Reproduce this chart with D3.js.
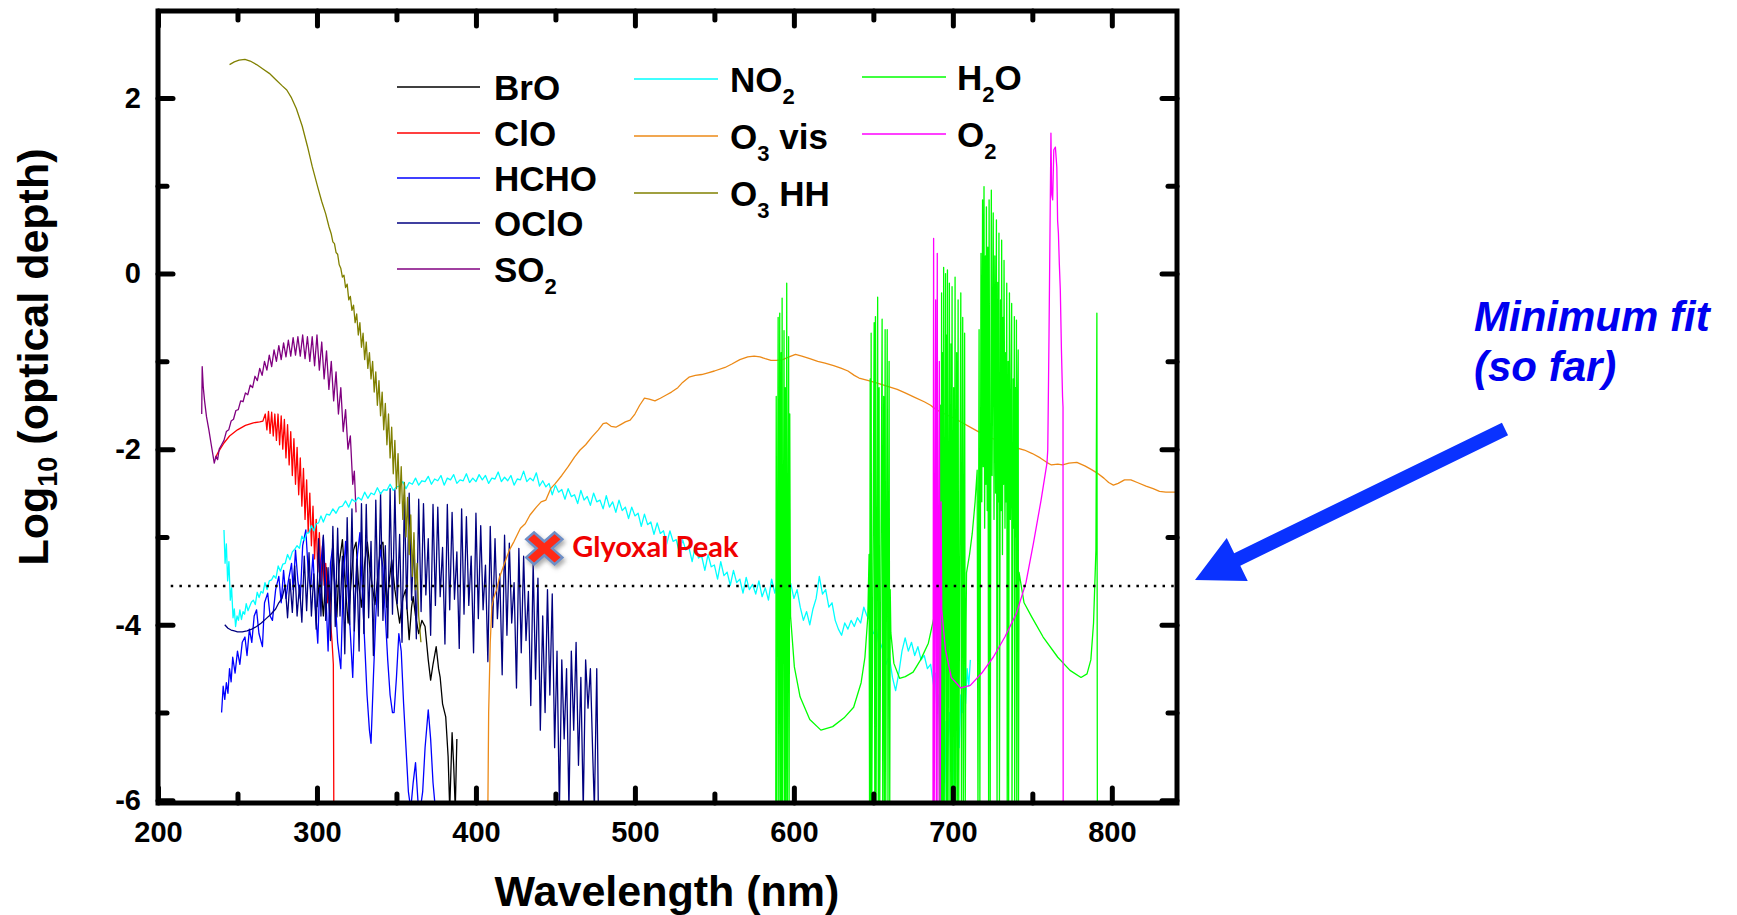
<!DOCTYPE html>
<html>
<head>
<meta charset="utf-8">
<script src="https://cdn.jsdelivr.net/npm/d3@7"></script>
<style>
  html, body { margin: 0; padding: 0; background: #fff; }
  svg { display: block; }
</style>
</head>
<body>
<div id="chart"></div>
<script>
// ---- data (wavelength nm, log10 optical depth) ----
const broData = [[300,-3.8],[302,-3.4],[304,-3.9],[306,-3.35],[308,-3.85],[310,-3.2],[312.5,-3.91],[314,-3.3],[316,-3.03],[318,-3.6],[319.6,-3.98],[321.5,-3.5],[323,-3.15],[324.6,-3.06],[326,-3.5],[328,-3.8],[330,-3.3],[331.7,-3.06],[333.5,-3.4],[336.5,-3.77],[338.5,-3.4],[340,-3.1],[341.5,-3.06],[343.8,-3.8],[345.5,-3.5],[347,-3.26],[349,-3.6],[352,-3.98],[354,-3.7],[355.8,-3.6],[357,-3.9],[358,-4.17],[359.5,-3.8],[360.5,-3.68],[362,-3.9],[364,-4.1],[366,-3.95],[368,-4.02],[370,-4.4],[371.5,-4.63],[373,-4.45],[375,-4.25],[376.5,-4.5],[377.5,-4.6],[379,-4.9],[381,-5.05],[382.5,-5.5],[383.5,-6.1],[385,-5.23],[386,-5.6],[387,-6.1],[388,-5.3]];

const cloData = [[236,-2.1],[238,-2.03],[241.5,-1.93],[245,-1.85],[250,-1.78],[255,-1.73],[260,-1.7],[264,-1.69],[266,-1.68],[267.5,-1.6],[268.5,-1.78],[269.5,-1.57],[270.5,-1.82],[271.5,-1.58],[272.5,-1.85],[273.5,-1.6],[274.5,-1.9],[275.5,-1.6],[276.5,-1.95],[277.5,-1.62],[278.5,-2.0],[279.5,-1.66],[280.5,-2.1],[281.5,-1.72],[282.5,-2.18],[283.5,-1.8],[284.5,-2.3],[285.5,-1.88],[286.5,-2.4],[287.5,-1.98],[288.5,-2.52],[289.5,-2.1],[290.5,-2.65],[291.5,-2.22],[292.5,-2.8],[293.5,-2.35],[294.5,-2.95],[295.5,-2.5],[296.5,-3.1],[297.5,-2.65],[298.5,-3.25],[299.5,-2.8],[300.5,-3.4],[301.5,-2.95],[302.5,-3.5],[303.5,-3.1],[304.5,-3.55],[305.5,-3.3],[306.5,-3.75],[307.5,-3.5],[308.5,-3.95],[309.5,-4.2],[310.3,-4.45],[310.6,-6.1]];

const hchoData = [[240,-5.0],[241,-4.7],[242,-4.85],[243,-4.66],[244,-4.78],[245,-4.5],[246,-4.65],[247,-4.37],[248.5,-4.55],[250,-4.3],[251.5,-4.45],[253,-4.2],[254.7,-4.14],[256,-4.35],[257.5,-4.05],[259,-4.2],[260.5,-3.9],[262,-3.83],[263.5,-4.1],[265.7,-4.25],[267,-3.75],[269,-3.64],[270.5,-3.9],[272,-3.95],[274,-3.6],[276,-3.45],[277.5,-3.75],[279,-3.38],[280.5,-3.7],[282,-3.5],[284,-3.3],[285,-3.6],[286.5,-3.15],[288,-3.5],[289.5,-3.7],[291,-3.1],[293,-2.92],[294.5,-3.4],[296,-3.6],[297.5,-3.2],[299,-3.8],[300.5,-4.21],[302,-3.4],[304,-3.0],[305.5,-3.6],[307,-4.3],[308.5,-3.3],[310,-3.1],[311.5,-3.7],[313,-4.2],[315,-4.5],[316.5,-3.5],[318,-3.05],[319.5,-3.6],[321,-4.1],[322.5,-4.6],[324,-3.7],[325.5,-3.2],[327,-2.95],[328.5,-3.6],[330,-4.2],[331.5,-4.8],[333,-5.2],[334,-5.35],[335.5,-4.6],[337,-3.9],[338.5,-3.4],[340,-3.15],[341.5,-3.35],[343,-3.9],[344.5,-4.4],[346,-4.8],[347.5,-5.0],[348.5,-5.0],[350,-4.6],[351.5,-4.1],[353,-4.3],[354.5,-4.9],[356,-5.4],[357.5,-5.9],[359,-6.1],[360.5,-5.8],[362,-5.57],[363.5,-6.0],[365,-6.1],[366.5,-5.9],[368,-5.4],[370,-4.97],[371.5,-5.3],[373,-5.8],[374.5,-6.1],[376,-6.1]];

const oclodata = [[242,-4.0],[244,-4.04],[246,-4.06],[248,-4.07],[250,-4.08],[253,-4.08],[256,-4.07],[259,-4.05],[262,-4.02],[265,-3.98],[268,-3.93],[271,-3.88],[274,-3.82],[276,-3.75],[278,-3.7],[280,-3.55],[281.5,-3.92],[283,-3.48],[284.5,-3.86],[286,-3.33],[287.5,-3.9],[289,-3.55],[290.5,-3.97],[292,-3.22],[293.5,-3.84],[295,-3.18],[296.5,-3.9],[298,-3.42],[299.5,-4.05],[301,-3.02],[302.5,-3.9],[304,-2.98],[305.5,-3.95],[307,-3.35],[308.5,-4.18],[310,-2.88],[311.5,-4.02],[313,-2.9],[314.5,-3.9],[316,-3.22],[317.5,-4.33],[319,-2.78],[320.5,-4.0],[322,-2.68],[323.5,-4.07],[325,-3.25],[326.5,-4.3],[328,-2.62],[329.5,-4.1],[331,-2.63],[332.5,-3.92],[334,-3.05],[335.5,-4.35],[337,-2.58],[338.5,-3.9],[340,-2.5],[341.5,-3.95],[343,-3.1],[344.5,-4.15],[346,-2.45],[347.5,-3.88],[349,-2.46],[350.5,-3.76],[352,-2.97],[353.5,-4.2],[355,-2.52],[356.5,-3.82],[358,-2.5],[359.5,-3.72],[361,-3.04],[362.5,-4.16],[364,-2.57],[365.5,-3.85],[367,-2.62],[368.5,-3.66],[370,-3.02],[371.5,-4.12],[373,-2.63],[374.5,-3.78],[376,-2.66],[377.5,-3.68],[379,-3.12],[380.5,-4.22],[382,-2.63],[383.5,-3.83],[385,-2.72],[386.5,-3.71],[388,-3.17],[389.5,-4.27],[391,-2.68],[392.5,-3.88],[394,-2.77],[395.5,-3.78],[397,-3.22],[398.5,-4.32],[400,-2.73],[401.5,-3.93],[403,-2.87],[404.5,-3.83],[406,-3.32],[407.5,-4.42],[409,-2.88],[410.5,-4.03],[412,-3.02],[413.5,-3.93],[415,-3.42],[416.5,-4.57],[418,-2.98],[419.5,-4.12],[421,-3.07],[422.5,-3.98],[424,-3.52],[425.5,-4.72],[427,-3.13],[428.5,-4.32],[430,-3.22],[431.5,-4.18],[433,-3.62],[434.5,-4.92],[436,-3.28],[437.5,-4.62],[439,-3.47],[440.5,-5.2],[442,-3.9],[443.5,-5.0],[445,-3.6],[446.5,-4.8],[448,-3.65],[449.5,-5.4],[451,-4.3],[452.5,-6.1],[454,-4.4],[455.5,-5.3],[457,-4.5],[458.5,-6.1],[460,-4.3],[461.5,-5.2],[463,-4.2],[464.5,-5.6],[466,-4.6],[467.5,-6.1],[469,-4.4],[470.5,-4.95],[472,-4.5],[473.5,-5.5],[474.5,-6.1],[476,-4.5],[477,-6.1]];

const so2Data = [[227.5,-1.6],[227.8,-1.06],[228.5,-1.3],[229.3,-1.45],[230.5,-1.63],[232,-1.78],[233.5,-1.95],[235.4,-2.16],[236.5,-2.08],[237.5,-2.12],[238.5,-2.0],[240,-1.95],[241.5,-1.9],[243,-1.8],[244.5,-1.78],[246,-1.68],[247.5,-1.66],[249,-1.56],[250.5,-1.55],[252,-1.45],[253.5,-1.46],[255,-1.36],[256.5,-1.38],[258,-1.27],[259.5,-1.3],[261,-1.17],[262.5,-1.22],[264,-1.08],[265.5,-1.16],[267,-1.0],[268.5,-1.1],[270,-0.93],[271.5,-1.06],[273,-0.87],[274.5,-1.0],[276,-0.82],[277.5,-0.98],[279,-0.79],[280.5,-0.95],[282,-0.76],[283.5,-0.94],[285,-0.73],[286.5,-0.93],[288,-0.72],[289.5,-0.94],[291,-0.7],[292.5,-0.97],[294,-0.72],[295.5,-1.0],[297,-0.72],[298.5,-1.05],[300,-0.7],[301.5,-1.1],[303,-0.78],[304.5,-1.2],[306,-0.88],[307.5,-1.32],[309,-1.0],[310.5,-1.45],[312,-1.12],[313.5,-1.6],[315,-1.3],[316.5,-1.8],[318,-1.55],[319.5,-2.0],[321,-1.85],[322.5,-2.4],[323.5,-2.25],[324.6,-2.72]];

const no2Data = [[241.5,-2.92],[242.2,-3.3],[243,-3.08],[243.8,-3.5],[244.6,-3.28],[245.5,-3.72],[246.3,-3.58],[247.2,-3.92],[248,-3.82],[248.8,-4.02],[249.7,-3.9],[250.6,-3.95],[251.5,-3.83],[252.5,-3.94],[253.5,-3.85],[254.5,-3.88],[255.5,-3.76],[256.6,-3.84],[257.7,-3.79],[258.8,-3.74],[260,-3.72],[261.2,-3.77],[262.4,-3.63],[263.6,-3.69],[264.8,-3.62],[266,-3.64],[267.3,-3.52],[268.6,-3.6],[270,-3.5],[271.4,-3.49],[272.8,-3.44],[274.2,-3.47],[275.6,-3.33],[277,-3.39],[278.5,-3.31],[280,-3.3],[281.5,-3.2],[283,-3.26],[284.5,-3.17],[286,-3.14],[287.5,-3.1],[289,-3.13],[290.5,-2.99],[292,-3.04],[293.5,-2.96],[295,-2.95],[296.5,-2.87],[298,-2.93],[299.5,-2.85],[301,-2.84],[302.5,-2.76],[304,-2.83],[306,-2.74],[308,-2.75],[310,-2.68],[312,-2.73],[314,-2.66],[316,-2.65],[318,-2.59],[320,-2.66],[322,-2.57],[324,-2.6],[326,-2.55],[328,-2.58],[330,-2.49],[332,-2.56],[334,-2.5],[336,-2.52],[338,-2.44],[340,-2.51],[342,-2.46],[344,-2.47],[346,-2.4],[348,-2.47],[350,-2.43],[352,-2.42],[354,-2.37],[356,-2.45],[358,-2.38],[360,-2.4],[362,-2.33],[364,-2.41],[366,-2.36],[368,-2.37],[370,-2.31],[372,-2.4],[374,-2.34],[376,-2.36],[378,-2.3],[380,-2.41],[382,-2.33],[384,-2.35],[386,-2.29],[388,-2.39],[390,-2.35],[392,-2.36],[394,-2.28],[396,-2.38],[398,-2.33],[400,-2.37],[402,-2.29],[404,-2.35],[406,-2.3],[408,-2.39],[410,-2.33],[412,-2.34],[414,-2.26],[416,-2.37],[418,-2.32],[420,-2.36],[422,-2.3],[424,-2.41],[426,-2.34],[428,-2.35],[430,-2.25],[432,-2.37],[434,-2.33],[436,-2.36],[438,-2.27],[440,-2.42],[442,-2.36],[444,-2.43],[446,-2.39],[448,-2.52],[450,-2.41],[452,-2.49],[454,-2.46],[456,-2.57],[458,-2.45],[460,-2.54],[462,-2.52],[464,-2.62],[466,-2.47],[468,-2.58],[470,-2.54],[472,-2.64],[474,-2.5],[476,-2.6],[478,-2.58],[480,-2.68],[482,-2.53],[484,-2.66],[486,-2.6],[488,-2.72],[490,-2.58],[492,-2.7],[494,-2.66],[496,-2.79],[498,-2.66],[500,-2.76],[502,-2.73],[504,-2.88],[506,-2.74],[508,-2.86],[510,-2.83],[512,-2.97],[514,-2.84],[516,-2.96],[518,-2.93],[520,-3.08],[522,-2.93],[524,-3.05],[526,-3.03],[528,-3.18],[530,-3.03],[532,-3.15],[534,-3.12],[536,-3.28],[538,-3.1],[540,-3.24],[542,-3.22],[544,-3.38],[546,-3.2],[548,-3.34],[550,-3.32],[552,-3.48],[554,-3.28],[556,-3.44],[558,-3.4],[560,-3.55],[562,-3.38],[564,-3.52],[566,-3.48],[568,-3.64],[570,-3.46],[572,-3.6],[574,-3.54],[576,-3.65],[578,-3.5],[580,-3.68],[582,-3.58],[584,-3.72],[586,-3.48],[588,-3.64],[590,-3.46],[592,-3.6],[594,-3.52],[596,-3.72],[598,-3.53],[600,-3.7],[602,-3.6],[604,-3.8],[606,-3.95],[608,-3.85],[610,-4.0],[612,-3.82],[614,-3.7],[616,-3.45],[618,-3.65],[620,-3.6],[622,-3.8],[624,-3.75],[626,-3.95],[628,-4.05],[630,-4.12],[632,-3.98],[634,-4.05],[636,-3.95],[638,-4.02],[640,-3.92],[642,-3.98],[644,-3.8],[646,-3.9],[648,-3.95],[650,-4.1],[652,-4.05],[654,-4.3],[656,-4.2],[658,-4.45],[660,-4.35],[662,-4.6],[664,-4.75],[666,-4.55],[668,-4.3],[670,-4.15],[672,-4.3],[674,-4.2],[676,-4.35],[678,-4.25],[680,-4.4],[682,-4.35],[684,-4.5],[686,-4.45],[688,-4.7],[689,-4.55],[690,-5.0],[691,-4.8],[692,-5.3],[693,-4.9],[694,-5.6],[695,-5.1],[696,-6.1],[697,-5.3],[698,-5.0],[699,-5.7],[700,-5.2],[701,-6.1],[702,-5.1],[703,-4.9],[704,-5.4],[705,-4.8],[706,-5.0],[707,-4.6],[708,-4.9],[709,-4.5],[710,-4.7],[711,-4.4]];

const o3visData = [[407.5,-6.1],[408,-5.0],[409,-4.2],[410,-3.8],[411,-3.7],[413,-3.6],[415,-3.45],[418,-3.3],[421,-3.15],[424,-3.05],[428,-2.9],[431,-2.85],[434,-2.75],[438,-2.66],[441,-2.6],[444,-2.58],[447,-2.45],[450,-2.39],[454,-2.3],[458,-2.2],[462,-2.09],[465.5,-2.01],[469,-1.95],[473,-1.86],[477,-1.78],[480,-1.71],[482,-1.7],[485,-1.74],[488,-1.75],[491,-1.72],[494,-1.69],[497,-1.67],[500,-1.6],[503,-1.5],[506,-1.42],[509,-1.43],[512.6,-1.45],[516,-1.42],[520,-1.38],[523,-1.35],[527,-1.3],[530,-1.24],[534,-1.18],[538,-1.16],[542,-1.15],[546,-1.13],[550,-1.11],[556.7,-1.07],[561,-1.03],[566,-0.98],[571,-0.95],[575,-0.94],[578.7,-0.95],[582,-0.97],[585.6,-0.99],[589,-0.99],[593,-0.98],[597,-0.95],[601,-0.92],[605,-0.94],[610,-0.97],[615,-1.0],[619.6,-1.02],[625,-1.05],[630,-1.08],[634,-1.11],[638,-1.16],[641,-1.19],[647,-1.22],[653,-1.25],[660,-1.29],[665,-1.32],[670,-1.36],[676,-1.41],[682,-1.46],[686,-1.5],[689.5,-1.55],[695,-1.6],[700,-1.64],[706,-1.7],[712,-1.76],[718,-1.82],[724,-1.87],[730,-1.92],[737,-1.97],[745,-2.01],[750,-2.05],[755,-2.1],[759,-2.15],[762,-2.18],[766,-2.17],[769,-2.18],[773,-2.16],[778,-2.15],[783,-2.19],[787,-2.23],[790.6,-2.27],[795,-2.33],[798,-2.38],[801,-2.41],[804,-2.39],[808,-2.35],[812,-2.35],[816,-2.38],[821.5,-2.42],[826,-2.45],[830,-2.48],[834,-2.49],[841,-2.49]];

const o3hhData = [[245,2.38],[248,2.41],[251,2.43],[254.7,2.44],[258,2.42],[262,2.38],[266,2.33],[270,2.28],[274,2.21],[278,2.14],[281,2.09],[284,2.0],[287,1.88],[290.7,1.68],[294,1.45],[297,1.22],[300.4,0.99],[303,0.82],[305.5,0.68],[307.6,0.53],[309,0.45],[310,0.36],[311,0.34],[312,0.24],[313,0.22],[314,0.1],[315,0.06],[316,-0.04],[317,-0.02],[318,-0.16],[319,-0.12],[320,-0.3],[321,-0.26],[322,-0.42],[323,-0.36],[324,-0.56],[325,-0.46],[326,-0.7],[327,-0.56],[328,-0.84],[329,-0.68],[330,-0.98],[331,-0.78],[332,-1.08],[333,-0.9],[334,-1.2],[335,-1.0],[336,-1.35],[337,-1.12],[338,-1.5],[339,-1.22],[340,-1.62],[341,-1.35],[342,-1.78],[343,-1.48],[344,-1.95],[345,-1.6],[346,-2.1],[347,-1.75],[348,-2.28],[349,-1.9],[350,-2.45],[351,-2.05],[352,-2.62],[353,-2.2],[354,-2.8],[355,-2.38],[356,-3.0],[357,-2.55],[358,-3.2],[359,-2.75],[360,-3.45],[361,-2.95],[362,-3.6],[363,-3.3],[364,-3.9],[365.4,-4.2]];

const h2oData = [[588.6,-6.1],[588.9,-1.4],[589.3,-6.1],[590.1,-0.5],[590.5,-6.1],[591.1,-0.45],[591.5,-6.1],[592.0,-0.9],[592.3,-6.1],[592.6,-0.28],[593.0,-6.1],[593.8,-0.65],[594.2,-6.1],[594.6,-1.3],[595.0,-6.1],[595.5,-0.11],[595.9,-6.1],[596.7,-0.72],[597.0,-6.1],[597.4,-1.6],[597.7,-3.3],[597.9,-3.9],[600.3,-4.48],[603.9,-4.82],[610,-5.08],[617,-5.2],[624.4,-5.16],[631.6,-5.06],[637.6,-4.94],[642.3,-4.66],[644.7,-4.37],[646.5,-3.91],[647.3,-3.2],[647.6,-6.1],[648.0,-1.2],[648.3,-6.1],[648.6,-0.68],[649.0,-6.1],[650.5,-0.56],[650.9,-6.1],[651.3,-0.49],[651.7,-6.1],[652.7,-0.27],[653.1,-6.1],[653.6,-1.3],[654.0,-6.1],[655.5,-0.52],[655.9,-6.1],[656.5,-1.4],[656.9,-6.1],[657.4,-0.64],[657.8,-6.1],[658.7,-0.64],[659.2,-6.1],[659.9,-1.0],[660.3,-6.1],[660.6,-3.6],[661,-4.09],[662.9,-4.44],[666.5,-4.61],[670.1,-4.59],[675,-4.54],[679.7,-4.4],[684.6,-4.21],[688.2,-3.91],[690.5,-3.52],[691.3,-2.8],[691.7,-6.1],[692.3,-1.5],[692.6,-6.1],[692.9,-0.22],[693.3,-6.1],[693.7,-0.9],[694.0,-6.1],[694.2,0.07],[694.6,-6.1],[695.4,0.0],[695.8,-6.1],[696.2,-0.7],[696.4,-6.1],[696.6,0.04],[697.0,-6.1],[697.8,-0.11],[698.2,-6.1],[698.8,-0.8],[699.1,-6.1],[699.5,-0.15],[699.9,-6.1],[700.5,-1.3],[700.9,-6.1],[701.4,-0.04],[701.8,-6.1],[702.4,-0.9],[702.8,-6.1],[703.3,-0.3],[703.7,-6.1],[705.0,-0.22],[705.4,-6.1],[706.2,-0.5],[706.6,-6.1],[707.4,-0.68],[707.8,-6.1],[708.3,-4.0],[708.6,-3.41],[710.5,-3.2],[712.2,-2.96],[714,-2.6],[715.3,-2.24],[715.8,-6.1],[716.5,-0.64],[717.0,-6.1],[717.7,0.23],[718.2,-2.6],[718.7,0.84],[719.1,-2.2],[719.6,0.99],[720.0,-2.9],[720.5,0.2],[720.8,-2.4],[721.1,0.76],[721.6,-2.7],[722.0,0.3],[722.5,-6.1],[722.8,0.84],[723.2,-2.5],[723.5,-6.1],[724.2,0.95],[724.7,-2.3],[725.4,0.69],[725.9,-2.8],[726.4,0.2],[726.9,-2.5],[727.4,0.61],[727.8,-6.1],[728.3,-0.1],[728.6,-2.6],[729.0,0.46],[729.3,-6.1],[730.0,-0.3],[730.4,-2.7],[730.7,0.38],[731.2,-3.2],[731.6,-0.5],[731.9,-2.4],[732.2,0.15],[732.8,-2.9],[733.2,-0.9],[733.5,-2.6],[733.9,-0.11],[734.2,-6.1],[734.8,-1.0],[735.1,-6.1],[735.6,-0.22],[736.2,-2.8],[737.0,-0.34],[737.2,-6.1],[738.0,-1.2],[738.3,-2.9],[738.7,-0.49],[738.9,-6.1],[739.4,-1.3],[739.7,-3.0],[740.0,-0.53],[740.2,-6.1],[740.7,-1.6],[741.1,-0.87],[741.3,-6.1],[741.6,-3.4],[744.8,-3.75],[749.6,-3.91],[756.8,-4.14],[766,-4.37],[773.7,-4.52],[780.6,-4.6],[784.4,-4.56],[786.8,-4.4],[788.5,-3.98],[790,-3.15],[790.4,-1.5],[790.6,-0.45],[790.9,-6.1]];

const o2Data = [[687.5,-6.1],[687.9,0.40],[688.3,-6.1],[689.2,-0.3],[689.6,-6.1],[690.2,0.23],[690.6,-6.1],[691.5,-1.0],[692.0,-6.1],[692.6,-2.6],[693.0,-3.83],[695.4,-4.29],[699,-4.6],[705,-4.72],[711,-4.69],[718.2,-4.55],[725.4,-4.37],[732.7,-4.14],[740,-3.87],[746,-3.52],[750.7,-3.07],[755.5,-2.58],[759.2,-2.16],[759.7,-2.01],[760.2,-1.2],[760.5,-0.68],[761.1,0.46],[761.7,1.6],[762.2,0.9],[762.8,0.84],[763.5,1.41],[764.5,1.44],[765.4,1.21],[765.9,0.6],[766.4,0.46],[767.0,0.1],[767.6,-0.19],[768.3,-0.87],[769.0,-1.4],[769.3,-1.52],[769.4,-6.1]];

const seriesNames = ["BrO", "ClO", "HCHO", "OClO", "SO2", "NO2", "O3 vis", "O3 HH", "H2O", "O2"];
const legendLabels = ["BrO", "ClO", "HCHO", "OClO", "SO_2", "NO_2", "O_3 vis", "O_3 HH", "H_2O", "O_2"];
const seriesColors = ["#000000", "#ff0000", "#0000ff", "#000080", "#800080", "#00ffff", "#ec8a17", "#808000", "#00ff00", "#ff00ff"];
const seriesData = [broData, cloData, hchoData, oclodata, so2Data, no2Data, o3visData, o3hhData, h2oData, o2Data];

const xMajorTicks = [200, 300, 400, 500, 600, 700, 800];
const xMinorTicks = [250, 350, 450, 550, 650, 750];
const yMajorTicks = [-6, -4, -2, 0, 2];
const yMinorTicks = [-5, -3, -1, 1];

const minFitLevel = -3.56;       // dotted line
const glyoxalPeak = [443, -3.13];

// ---- layout ----
const width = 1737, height = 915;
const plot = {left: 158, right: 1177, top: 11, bottom: 803};
const font = "'Liberation Sans', Arial, sans-serif";

const x = d3.scaleLinear().domain([200, 841]).range([plot.left, plot.right]);
const y = d3.scaleLinear().domain([-6.03, 2.99]).range([plot.bottom, plot.top]);

const svg = d3.select("#chart")
    .append("svg")
    .attr("width", width)
    .attr("height", height)
    .attr("viewBox", `0 0 ${width} ${height}`)
    .style("background", "#fff");

const defs = svg.append("defs");
defs.append("clipPath").attr("id", "plotClip")
    .append("rect")
    .attr("x", plot.left).attr("y", plot.top)
    .attr("width", plot.right - plot.left).attr("height", plot.bottom - plot.top);
defs.append("filter").attr("id", "shadow")
    .attr("x", "-50%").attr("y", "-50%").attr("width", "200%").attr("height", "200%")
    .append("feDropShadow")
    .attr("dx", 2).attr("dy", 3).attr("stdDeviation", 2)
    .attr("flood-color", "#777").attr("flood-opacity", 0.6);

// writes "SO_2" style labels with subscripts
function addLabel(textSel, label, subSize, subShift) {
    const parts = label.split(/_(\d+)/);
    parts.forEach((p, i) => {
        if (!p) return;
        if (i % 2 === 1) {
            textSel.append("tspan").attr("font-size", subSize).attr("dy", subShift).text(p);
        } else {
            const t = textSel.append("tspan").text(p);
            if (i > 0) t.attr("dy", -subShift);
        }
    });
}

// ---- spectra ----
const line = d3.line().x(d => x(d[0])).y(d => y(d[1]));

svg.append("g")
    .attr("clip-path", "url(#plotClip)")
    .selectAll("path")
    .data(seriesData)
    .join("path")
    .attr("fill", "none")
    .attr("stroke", (d, i) => seriesColors[i])
    .attr("stroke-width", 1.3)
    .attr("stroke-linejoin", "round")
    .attr("d", line);

// minimum fit level
svg.append("line")
    .attr("x1", x(208)).attr("x2", x(841))
    .attr("y1", y(minFitLevel)).attr("y2", y(minFitLevel))
    .attr("stroke", "#000")
    .attr("stroke-width", 2.5)
    .attr("stroke-dasharray", "2.5 6.2");

// glyoxal marker
const gx = x(glyoxalPeak[0]), gy = y(glyoxalPeak[1]);
const cross = (() => {
    const L = 20, w = 5.5;
    const pts = [[-w,-L],[w,-L],[w,-w],[L,-w],[L,w],[w,w],[w,L],[-w,L],[-w,w],[-L,w],[-L,-w],[-w,-w]];
    const c = Math.SQRT1_2;
    return pts.map(([a, b]) => [(a - b) * c, (a + b) * c * 0.88]);
})();
svg.append("path")
    .attr("transform", `translate(${gx},${gy})`)
    .attr("d", "M" + cross.map(p => p.join(",")).join("L") + "Z")
    .attr("fill", "#ff2a14")
    .attr("stroke", "#6e8fc6")
    .attr("stroke-width", 2.5)
    .attr("filter", "url(#shadow)");
svg.append("text")
    .attr("x", gx + 28).attr("y", gy + 9)
    .attr("font-family", "Lato, 'Open Sans', sans-serif")
    .attr("font-weight", 700)
    .attr("font-size", 29)
    .attr("fill", "#f00000")
    .text("Glyoxal Peak");

// ---- axes ----
function styleAxis(g) {
    g.select(".domain").remove();
    g.selectAll(".tick line")
        .attr("stroke", "#000")
        .attr("stroke-width", 5)
        .attr("stroke-linecap", "round");
    g.selectAll(".tick text")
        .attr("fill", "#000")
        .attr("font-family", font)
        .attr("font-weight", "bold")
        .attr("font-size", 29);
}

svg.append("g").attr("transform", `translate(0,${plot.bottom})`)
    .call(d3.axisBottom(x).tickValues(xMajorTicks).tickSizeInner(-15).tickSizeOuter(0)
        .tickPadding(18).tickFormat(d => String(d)))
    .call(styleAxis);
svg.append("g").attr("transform", `translate(0,${plot.bottom})`)
    .call(d3.axisBottom(x).tickValues(xMinorTicks).tickSizeInner(-9).tickSizeOuter(0).tickFormat(""))
    .call(styleAxis);
svg.append("g").attr("transform", `translate(0,${plot.top})`)
    .call(d3.axisTop(x).tickValues(xMajorTicks).tickSizeInner(-15).tickSizeOuter(0).tickFormat(""))
    .call(styleAxis);
svg.append("g").attr("transform", `translate(0,${plot.top})`)
    .call(d3.axisTop(x).tickValues(xMinorTicks).tickSizeInner(-9).tickSizeOuter(0).tickFormat(""))
    .call(styleAxis);

svg.append("g").attr("transform", `translate(${plot.left},0)`)
    .call(d3.axisLeft(y).tickValues(yMajorTicks).tickSizeInner(-15).tickSizeOuter(0)
        .tickPadding(17).tickFormat(d => String(d)))
    .call(styleAxis);
svg.append("g").attr("transform", `translate(${plot.left},0)`)
    .call(d3.axisLeft(y).tickValues(yMinorTicks).tickSizeInner(-9).tickSizeOuter(0).tickFormat(""))
    .call(styleAxis);
svg.append("g").attr("transform", `translate(${plot.right},0)`)
    .call(d3.axisRight(y).tickValues(yMajorTicks).tickSizeInner(-15).tickSizeOuter(0).tickFormat(""))
    .call(styleAxis);
svg.append("g").attr("transform", `translate(${plot.right},0)`)
    .call(d3.axisRight(y).tickValues(yMinorTicks).tickSizeInner(-9).tickSizeOuter(0).tickFormat(""))
    .call(styleAxis);

svg.append("rect")
    .attr("x", plot.left).attr("y", plot.top)
    .attr("width", plot.right - plot.left).attr("height", plot.bottom - plot.top)
    .attr("fill", "none")
    .attr("stroke", "#000")
    .attr("stroke-width", 5);

// axis titles
svg.append("text")
    .attr("x", 667).attr("y", 906)
    .attr("text-anchor", "middle")
    .attr("font-family", font).attr("font-weight", "bold").attr("font-size", 43)
    .text("Wavelength (nm)");

const yTitle = svg.append("text")
    .attr("transform", "translate(48,357) rotate(-90)")
    .attr("text-anchor", "middle")
    .attr("font-family", font).attr("font-weight", "bold").attr("font-size", 43);
addLabel(yTitle, "Log_10 (optical depth)", 27, 9);

// ---- legend ----
const legendCols = [
    {x0: 397, x1: 480, tx: 494, rows: [87, 133, 178, 223, 269]},
    {x0: 634, x1: 718, tx: 730, rows: [79, 136, 193]},
    {x0: 862, x1: 946, tx: 957, rows: [77, 134]}
];
const legendPos = legendCols.flatMap(c => c.rows.map(r => ({x0: c.x0, x1: c.x1, tx: c.tx, y: r})));

const legend = svg.append("g").selectAll("g")
    .data(seriesNames)
    .join("g");
legend.append("line")
    .attr("x1", (d, i) => legendPos[i].x0)
    .attr("x2", (d, i) => legendPos[i].x1)
    .attr("y1", (d, i) => legendPos[i].y)
    .attr("y2", (d, i) => legendPos[i].y)
    .attr("stroke", (d, i) => seriesColors[i])
    .attr("stroke-width", 1.6);
legend.append("text")
    .attr("x", (d, i) => legendPos[i].tx)
    .attr("y", (d, i) => legendPos[i].y + 12.5)
    .attr("font-family", font).attr("font-weight", "bold").attr("font-size", 35)
    .each(function (d, i) { addLabel(d3.select(this), legendLabels[i], 22, 12); });

// ---- "Minimum fit" annotation ----
const note = svg.append("text")
    .attr("font-family", font).attr("font-weight", "bold").attr("font-style", "italic")
    .attr("font-size", 42).attr("fill", "#0000f0");
note.append("tspan").attr("x", 1474).attr("y", 331).text("Minimum fit");
note.append("tspan").attr("x", 1474).attr("y", 381).text("(so far)");

const tail = [1505, 429];
const tip = [x(841) + 18, y(minFitLevel) - 6];
const len = Math.hypot(tip[0] - tail[0], tip[1] - tail[1]);
const ux = (tip[0] - tail[0]) / len, uy = (tip[1] - tail[1]) / len;
const px = -uy, py = ux;
const shaftHalf = 7, headLen = 47, headHalf = 24;
const neck = [tip[0] - ux * headLen, tip[1] - uy * headLen];
const arrowPts = [
    [tail[0] + px * shaftHalf, tail[1] + py * shaftHalf],
    [neck[0] + px * shaftHalf, neck[1] + py * shaftHalf],
    [neck[0] + px * headHalf, neck[1] + py * headHalf],
    tip,
    [neck[0] - px * headHalf, neck[1] - py * headHalf],
    [neck[0] - px * shaftHalf, neck[1] - py * shaftHalf],
    [tail[0] - px * shaftHalf, tail[1] - py * shaftHalf]
];
svg.append("path")
    .attr("d", "M" + arrowPts.map(p => p.join(",")).join("L") + "Z")
    .attr("fill", "#0a32ff");
</script>
</body>
</html>
